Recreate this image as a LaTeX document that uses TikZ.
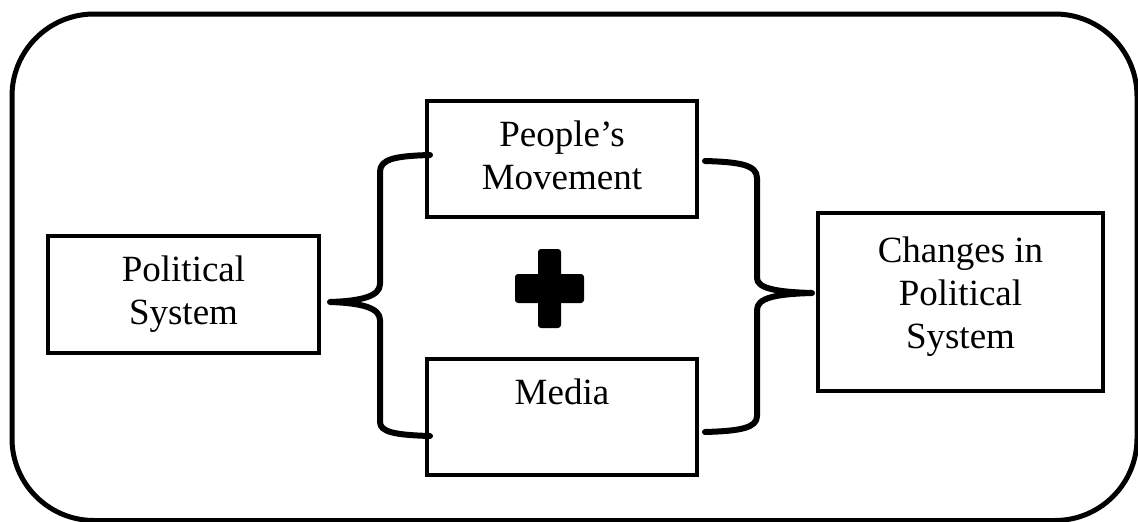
\documentclass[tikz,border=0pt]{standalone}
\usepackage{fontspec}
\setmainfont{Liberation Serif}
\usepackage{tikz}

\begin{document}
\begin{tikzpicture}[x=1pt, y=-1pt,
		box/.style={draw, line width=4pt, rectangle, inner sep=0pt, align=center,
			font=\fontsize{37}{43}\selectfont},
		brace/.style={draw, line width=6pt, line cap=round, line join=round}]
				\useasboundingbox (0,0) rectangle (1138,522);
				% frame
				\draw[line width=5pt, rounded corners=82pt] (12,14) rectangle (1137,520.5);
				% boxes
				\node[box, minimum width=271pt, minimum height=117pt] (pol) at (183.5,294.5) {\strut Political\\\strut System};
				\node[box, minimum width=270pt, minimum height=116pt] (pm) at (562,159) {\strut People's\\\strut Movement};
				\node[box, minimum width=270pt, minimum height=116pt] (med) at (562,417) {\strut Media\\\strut};
				\node[box, minimum width=285pt, minimum height=178pt] (chg) at (960.5,302) {\strut Changes in\\\strut Political\\\strut System\\[-19pt]\mbox{}};
				% brace tips
				\coordinate (lt) at (430,155);
				\coordinate (lb) at (430,436);
				\coordinate (lm) at (330,302);
				\coordinate (rt) at (705,161);
				\coordinate (rb) at (705,432);
				\coordinate (rm) at (812,293);
				% left brace
				\path[brace] (lt) .. controls (395,156) and (380,159) .. (380,172) -- (380,284)
					.. controls (380,296) and (362,301) .. (lm)
					.. controls (362,303) and (380,308) .. (380,320) -- (380,422)
					.. controls (380,432) and (395,435) .. (lb);
				% right brace
				\path[brace] (rt) .. controls (740,162) and (757,165) .. (757,178) -- (757,278)
					.. controls (757,288) and (775,292) .. (rm)
					.. controls (775,294) and (757,298) .. (757,310) -- (757,416)
					.. controls (757,428) and (740,431) .. (rb);
				% plus sign
				\fill[rounded corners=3pt] (515,274) rectangle (584,303);
				\fill[rounded corners=3pt] (538,249) rectangle (561,328);
			\end{tikzpicture}
\end{document}
